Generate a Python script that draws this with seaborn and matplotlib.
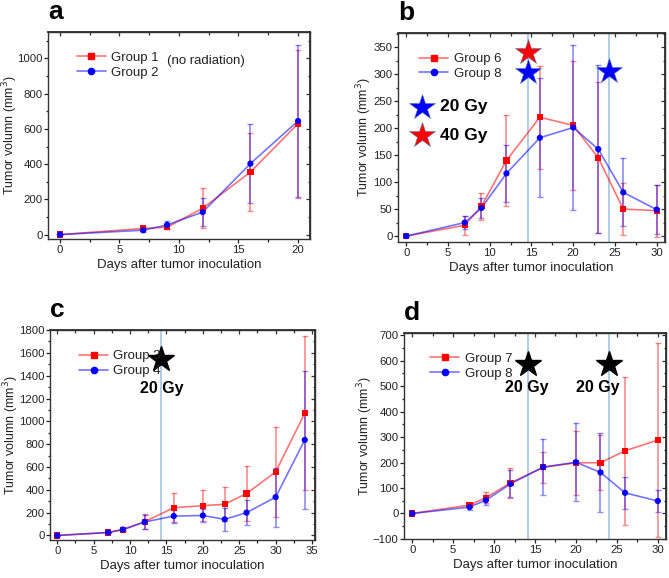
import numpy as np
import pandas as pd
import matplotlib
matplotlib.use("Agg")
import matplotlib.pyplot as plt
from matplotlib.lines import Line2D
from matplotlib.ticker import MultipleLocator
import seaborn as sns

# ---- data ----
days_a = [0, 7, 9, 12, 16, 20]
group1 = [0, 35, 42, 150, 355, 630]
group1_err = [3, 10, 12, 113, 222, 420]
group2 = [0, 25, 55, 128, 403, 645]
group2_err = [3, 8, 25, 78, 225, 430]

days_b = [0, 7, 9, 12, 16, 20, 23, 26, 30]
group6 = [0, 20, 55, 140, 220, 205, 145, 50, 47]
group6_err = [2, 18, 25, 85, 95, 120, 140, 48, 48]
group8 = [0, 25, 52, 116, 182, 201, 161, 81, 49]
group8_err = [2, 12, 19, 53, 110, 153, 155, 63, 45]

days_c = [0, 7, 9, 12, 16, 20, 23, 26, 30, 34]
group3 = [0, 26, 50, 120, 243, 261, 273, 367, 557, 1071]
group3_err = [5, 8, 12, 65, 128, 133, 150, 243, 392, 677]
group4 = [0, 26, 52, 118, 170, 175, 141, 200, 336, 837]
group4_err = [5, 8, 10, 60, 60, 55, 100, 110, 258, 607]

days_d = days_b
group7 = [0, 33, 62, 120, 181, 199, 199, 246, 288]
group7_err = [3, 8, 22, 58, 60, 125, 108, 291, 381]

RED = "#ff0000"
BLUE = "#0000ff"
VLINE = "#a9c9e6"

sns.set_theme(style="ticks")
plt.rcParams["font.family"] = ["Liberation Sans", "DejaVu Sans"]
plt.rcParams["text.color"] = "#222222"
plt.rcParams["axes.labelcolor"] = "#222222"


def draw_panel(ax, days, series, xlim, ylim, xmaj, ymaj, letter, leg_anchor, ylab_x):
    rows = []
    for label, vals, errs, color, marker in series:
        for d, v, e in zip(days, vals, errs):
            rows.append({"day": d, "volume": v, "err": e, "group": label})
    df = pd.DataFrame(rows)
    palette = {s[0]: s[3] for s in series}
    markers = {s[0]: s[4] for s in series}

    for label, vals, errs, color, marker in series:
        ax.errorbar(days, vals, yerr=errs, fmt="none", ecolor=color,
                    alpha=0.45, capsize=2.5, elinewidth=1.2, capthick=1.0, zorder=2)
    sns.lineplot(data=df, x="day", y="volume", hue="group", palette=palette,
                 ax=ax, alpha=0.55, linewidth=1.2, legend=False, zorder=3,
                 errorbar=None)
    sns.scatterplot(data=df, x="day", y="volume", hue="group", style="group",
                    palette=palette, markers=markers, s=20, linewidth=0,
                    ax=ax, legend=False, zorder=4)

    ax.set_xlim(*xlim)
    ax.set_ylim(*ylim)
    ax.xaxis.set_major_locator(MultipleLocator(xmaj))
    ax.xaxis.set_minor_locator(MultipleLocator(xmaj / 2))
    ax.yaxis.set_major_locator(MultipleLocator(ymaj))
    ax.yaxis.set_minor_locator(MultipleLocator(ymaj / 2))
    ax.tick_params(which="both", direction="out", labelsize=8.2,
                   colors="#222222", width=0.9, pad=1)
    ax.tick_params(which="major", length=3)
    ax.tick_params(which="minor", length=1.8)
    for sp in ax.spines.values():
        sp.set_visible(True)
        sp.set_linewidth(1.0)
        sp.set_color("#333333")

    top = ax.secondary_xaxis("top")
    top.xaxis.set_major_locator(MultipleLocator(xmaj))
    top.xaxis.set_minor_locator(MultipleLocator(xmaj / 2))
    top.tick_params(which="both", direction="in", labeltop=False, width=0.9,
                    colors="#333333")
    top.tick_params(which="major", length=3)
    top.tick_params(which="minor", length=1.8)
    right = ax.secondary_yaxis("right")
    right.yaxis.set_major_locator(MultipleLocator(ymaj))
    right.yaxis.set_minor_locator(MultipleLocator(ymaj / 2))
    right.tick_params(which="both", direction="in", labelright=False, width=0.9,
                      colors="#333333")
    right.tick_params(which="major", length=3)
    right.tick_params(which="minor", length=1.8)

    ax.set_xlabel("Days after tumor inoculation", fontsize=9.5, labelpad=3)
    ax.set_ylabel("Tumor volumn (mm$^3$)", fontsize=9)
    ax.yaxis.set_label_coords(ylab_x, 0.5)

    handles = [
        (Line2D([], [], color=s[3], alpha=0.55, lw=1.2),
         Line2D([], [], color=s[3], marker=s[4], lw=0, markersize=4.5))
        for s in series
    ]
    ax.legend(handles, [s[0] for s in series], loc="upper left",
              bbox_to_anchor=leg_anchor, frameon=False, fontsize=9.5,
              handlelength=2.2, labelspacing=0.2, borderaxespad=0,
              handletextpad=0.4)

    ax.text(0.0, 1.04, letter, transform=ax.transAxes, fontsize=19,
            fontweight="bold", color="black", va="bottom", ha="left")


fig = plt.figure(figsize=(6.69, 5.78), dpi=100)
ax_a = fig.add_axes([0.0717, 0.5865, 0.3916, 0.3581])
ax_b = fig.add_axes([0.5949, 0.5813, 0.3991, 0.3616])
ax_c = fig.add_axes([0.0747, 0.0657, 0.3961, 0.3633])
ax_d = fig.add_axes([0.6039, 0.0675, 0.3916, 0.3564])

# a
draw_panel(ax_a, days_a,
           [("Group 1", group1, group1_err, RED, "s"),
            ("Group 2", group2, group2_err, BLUE, "o")],
           (-1, 21), (-25, 1150), 5, 200, "a", (0.09, 0.93), -0.105)
ax_a.text(12.3, 985, "(no radiation)", fontsize=9.5, ha="center", va="center")

# b
draw_panel(ax_b, days_b,
           [("Group 6", group6, group6_err, RED, "s"),
            ("Group 8", group8, group8_err, BLUE, "o")],
           (-1, 31), (-11, 376), 5, 50, "b", (0.06, 0.93), -0.09)
for x in [14.6, 24.3]:
    ax_b.axvline(x, color=VLINE, lw=1.3, zorder=1)
ax_b.plot([14.6], [341], marker="*", color=RED, markersize=19, mec="#5577aa", mew=0.4, zorder=5)
ax_b.plot([14.6, 24.3], [304, 305], marker="*", lw=0, color=BLUE, markersize=19,
          mec="#5577aa", mew=0.4, zorder=5)
ax_b.plot([1.9], [239], marker="*", color=BLUE, markersize=19, mec="#5577aa", mew=0.4)
ax_b.plot([1.9], [187], marker="*", color=RED, markersize=19, mec="#5577aa", mew=0.4)
ax_b.text(4.0, 239, "20 Gy", fontsize=12.5, fontweight="bold", va="center", color="black")
ax_b.text(4.0, 187, "40 Gy", fontsize=12.5, fontweight="bold", va="center", color="black")

# c
draw_panel(ax_c, days_c,
           [("Group 3", group3, group3_err, RED, "s"),
            ("Group 4", group4, group4_err, BLUE, "o")],
           (-1, 35.4), (-40, 1800), 5, 200, "c", (0.09, 0.93), -0.108)
ax_c.axvline(14.3, color=VLINE, lw=1.3, zorder=1)
ax_c.plot([14.3], [1550], marker="*", color="black", markersize=19, zorder=5)
ax_c.text(14.4, 1285, "20 Gy", fontsize=11.5, fontweight="bold", ha="center",
          va="center", color="black")

# d
draw_panel(ax_d, days_d,
           [("Group 7", group7, group7_err, RED, "s"),
            ("Group 8", group8, group8_err, BLUE, "o")],
           (-1, 31), (-100, 708), 5, 100, "d", (0.08, 0.93), -0.112)
for x in [14.1, 24.0]:
    ax_d.axvline(x, color=VLINE, lw=1.3, zorder=1)
    ax_d.plot([x], [587], marker="*", color="black", markersize=19, zorder=5)
ax_d.text(14.0, 493, "20 Gy", fontsize=11.5, fontweight="bold", ha="center",
          va="center", color="black")
ax_d.text(22.7, 493, "20 Gy", fontsize=11.5, fontweight="bold", ha="center",
          va="center", color="black")

fig.savefig("out.png", dpi=100)
